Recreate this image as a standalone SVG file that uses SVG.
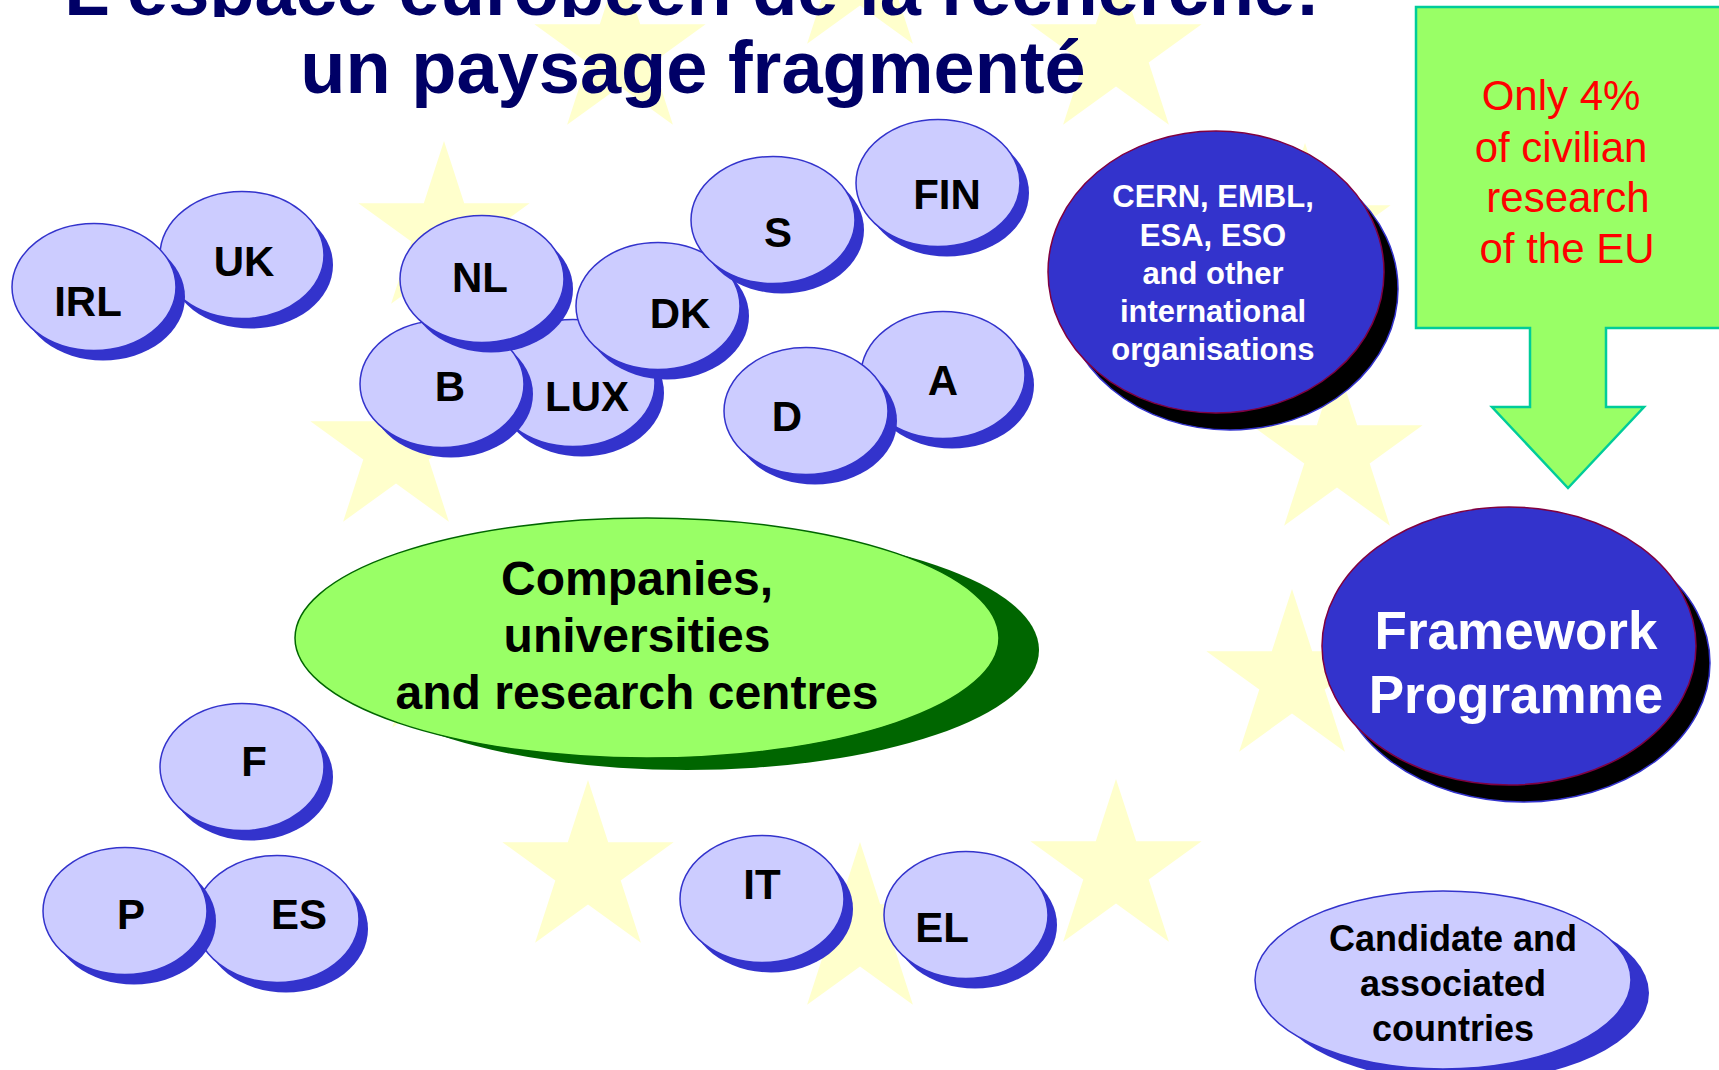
<svg xmlns="http://www.w3.org/2000/svg" xmlns:xlink="http://www.w3.org/1999/xlink" width="1719" height="1070" viewBox="0 0 1719 1070">
<style>
.star{fill:#FFFFCC}
.title{font-family:"Liberation Sans",Arial,sans-serif;font-weight:bold;font-size:74px;fill:#000066;text-anchor:middle}
.cf{fill:#CCCCFF;stroke:#3333CC;stroke-width:1.5}
.cs{fill:#3333CC}
.lbl{font-family:"Liberation Sans",Arial,sans-serif;font-weight:bold;font-size:42px;fill:#000000;text-anchor:middle}
.big{fill:#3333CC;stroke:#800040;stroke-width:1.5}
.bigs{fill:#000000;stroke:#3333CC;stroke-width:1.5}
.wt{font-family:"Liberation Sans",Arial,sans-serif;font-weight:bold;fill:#FFFFFF;text-anchor:middle}
.bt{font-family:"Liberation Sans",Arial,sans-serif;font-weight:bold;fill:#000000;text-anchor:middle}
.rt{font-family:"Liberation Sans",Arial,sans-serif;font-size:42px;fill:#FF0000;text-anchor:middle}
</style>
<defs>
<path id="star" d="M0,-90 L20.2,-27.8 L85.6,-27.8 L32.7,10.6 L52.9,72.8 L0,34.4 L-52.9,72.8 L-32.7,10.6 L-85.6,-27.8 L-20.2,-27.8 Z"/>
<clipPath id="clipTop"><rect x="0" y="0" width="1719" height="17"/></clipPath>
</defs>
<rect x="0" y="0" width="1719" height="1070" fill="#FFFFFF"/>
<g id="stars" class="star">
<use xlink:href="#star" href="#star" transform="translate(860,-29)"/>
<use xlink:href="#star" href="#star" transform="translate(620,52)"/>
<use xlink:href="#star" href="#star" transform="translate(1116,52)"/>
<use xlink:href="#star" href="#star" transform="translate(444,231)"/>
<use xlink:href="#star" href="#star" transform="translate(1305,233)"/>
<use xlink:href="#star" href="#star" transform="translate(396,449)"/>
<use xlink:href="#star" href="#star" transform="translate(1337,453)"/>
<use xlink:href="#star" href="#star" transform="translate(445,655)"/>
<use xlink:href="#star" href="#star" transform="translate(1292,679)"/>
<use xlink:href="#star" href="#star" transform="translate(588,870)"/>
<use xlink:href="#star" href="#star" transform="translate(1116,869)"/>
<use xlink:href="#star" href="#star" transform="translate(860,932)"/>
</g>
<g id="title">
<text class="title" x="692" y="15" clip-path="url(#clipTop)">L'espace européen de la recherche:</text>
<text class="title" x="693" y="93">un paysage fragmenté</text>
</g>
<g id="connectors"></g>
<g id="node-companies">
<ellipse cx="687" cy="650" rx="352" ry="120" fill="#006600"/>
<ellipse cx="647" cy="638" rx="352" ry="120" fill="#99FF66" stroke="#006600" stroke-width="1.5"/>
<text class="bt" font-size="48" x="637" y="595">Companies,</text>
<text class="bt" font-size="48" x="637" y="652">universities</text>
<text class="bt" font-size="48" x="637" y="709">and research centres</text>
</g>
<g id="node-UK">
<ellipse class="cs" cx="251" cy="265" rx="82" ry="63.5"/>
<ellipse class="cf" cx="242" cy="255" rx="82" ry="63.5"/>
<text class="lbl" x="244" y="276">UK</text>
</g>
<g id="node-IRL">
<ellipse class="cs" cx="103" cy="297" rx="82" ry="63.5"/>
<ellipse class="cf" cx="94" cy="287" rx="82" ry="63.5"/>
<text class="lbl" x="88" y="316">IRL</text>
</g>
<g id="node-LUX">
<ellipse class="cs" cx="582" cy="393" rx="82" ry="63.5"/>
<ellipse class="cf" cx="573" cy="383" rx="82" ry="63.5"/>
<text class="lbl" x="587" y="411">LUX</text>
</g>
<g id="node-B">
<ellipse class="cs" cx="451" cy="394" rx="82" ry="63.5"/>
<ellipse class="cf" cx="442" cy="384" rx="82" ry="63.5"/>
<text class="lbl" x="450" y="401">B</text>
</g>
<g id="node-NL">
<ellipse class="cs" cx="491" cy="289" rx="82" ry="63.5"/>
<ellipse class="cf" cx="482" cy="279" rx="82" ry="63.5"/>
<text class="lbl" x="480" y="292">NL</text>
</g>
<g id="node-DK">
<ellipse class="cs" cx="667" cy="316" rx="82" ry="63.5"/>
<ellipse class="cf" cx="658" cy="306" rx="82" ry="63.5"/>
<text class="lbl" x="680" y="328">DK</text>
</g>
<g id="node-FIN">
<ellipse class="cs" cx="947" cy="193" rx="82" ry="63.5"/>
<ellipse class="cf" cx="938" cy="183" rx="82" ry="63.5"/>
<text class="lbl" x="947" y="209">FIN</text>
</g>
<g id="node-S">
<ellipse class="cs" cx="782" cy="230" rx="82" ry="63.5"/>
<ellipse class="cf" cx="773" cy="220" rx="82" ry="63.5"/>
<text class="lbl" x="778" y="247">S</text>
</g>
<g id="node-A">
<ellipse class="cs" cx="952" cy="385" rx="82" ry="63.5"/>
<ellipse class="cf" cx="943" cy="375" rx="82" ry="63.5"/>
<text class="lbl" x="943" y="395">A</text>
</g>
<g id="node-D">
<ellipse class="cs" cx="815" cy="421" rx="82" ry="63.5"/>
<ellipse class="cf" cx="806" cy="411" rx="82" ry="63.5"/>
<text class="lbl" x="787" y="431">D</text>
</g>
<g id="node-F">
<ellipse class="cs" cx="251" cy="777" rx="82" ry="63.5"/>
<ellipse class="cf" cx="242" cy="767" rx="82" ry="63.5"/>
<text class="lbl" x="254" y="776">F</text>
</g>
<g id="node-ES">
<ellipse class="cs" cx="286" cy="929" rx="82" ry="63.5"/>
<ellipse class="cf" cx="277" cy="919" rx="82" ry="63.5"/>
<text class="lbl" x="299" y="929">ES</text>
</g>
<g id="node-P">
<ellipse class="cs" cx="134" cy="921" rx="82" ry="63.5"/>
<ellipse class="cf" cx="125" cy="911" rx="82" ry="63.5"/>
<text class="lbl" x="131" y="929">P</text>
</g>
<g id="node-IT">
<ellipse class="cs" cx="771" cy="909" rx="82" ry="63.5"/>
<ellipse class="cf" cx="762" cy="899" rx="82" ry="63.5"/>
<text class="lbl" x="762" y="899">IT</text>
</g>
<g id="node-EL">
<ellipse class="cs" cx="975" cy="925" rx="82" ry="63.5"/>
<ellipse class="cf" cx="966" cy="915" rx="82" ry="63.5"/>
<text class="lbl" x="942" y="942">EL</text>
</g>
<g id="node-international">
<ellipse class="bigs" cx="1230" cy="289" rx="168" ry="141"/>
<ellipse class="big" cx="1216" cy="272" rx="168" ry="141"/>
<text class="wt" font-size="31" x="1213" y="207">CERN, EMBL,</text>
<text class="wt" font-size="31" x="1213" y="246">ESA, ESO</text>
<text class="wt" font-size="31" x="1213" y="284">and other</text>
<text class="wt" font-size="31" x="1213" y="322">international</text>
<text class="wt" font-size="31" x="1213" y="360">organisations</text>
</g>
<g id="node-share">
<path d="M1416,7 H1722 V328 H1606 V407 H1644 L1568,488 L1492,407 H1530 V328 H1416 Z" fill="#99FF66" stroke="#00CC99" stroke-width="2.5"/>
<text class="rt" x="1561" y="110">Only 4%</text>
<text class="rt" x="1561" y="162">of civilian</text>
<text class="rt" x="1568" y="212">research</text>
<text class="rt" x="1567" y="263">of the EU</text>
</g>
<g id="node-framework">
<ellipse class="bigs" cx="1523" cy="663" rx="187" ry="139"/>
<ellipse class="big" cx="1509" cy="646" rx="187" ry="139"/>
<text class="wt" font-size="53" x="1516" y="649">Framework</text>
<text class="wt" font-size="53" x="1516" y="713">Programme</text>
</g>
<g id="node-candidate">
<ellipse class="cs" cx="1461" cy="993" rx="188" ry="89"/>
<ellipse class="cf" cx="1443" cy="980" rx="188" ry="89"/>
<text class="bt" font-size="36" x="1453" y="951">Candidate and</text>
<text class="bt" font-size="36" x="1453" y="996">associated</text>
<text class="bt" font-size="36" x="1453" y="1041">countries</text>
</g>
</svg>
